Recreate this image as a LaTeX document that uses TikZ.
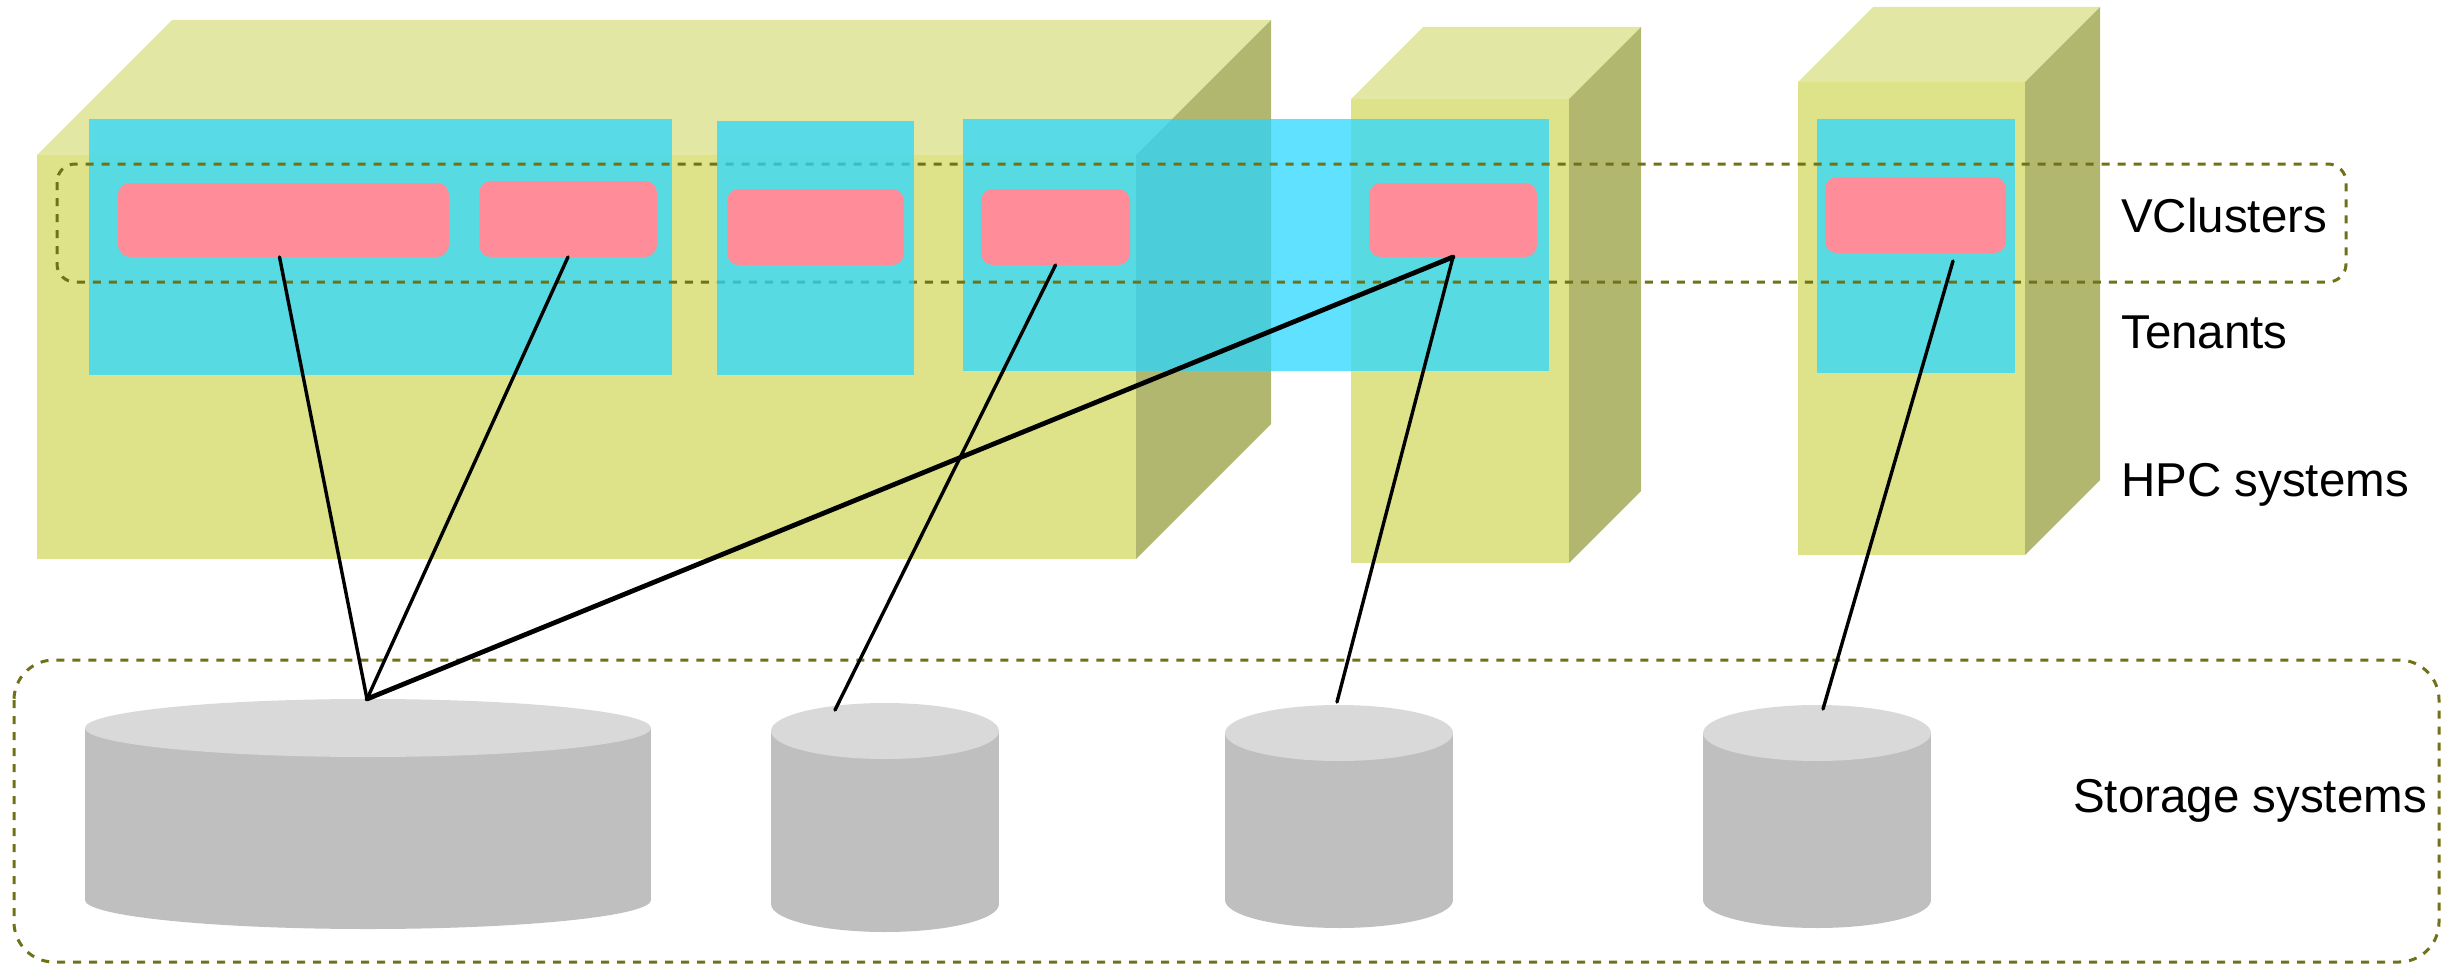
\documentclass[tikz,border=0pt]{standalone}
\usepackage{fontspec}
\setmainfont{Liberation Sans}

\definecolor{boxtop}{RGB}{226,232,163}
\definecolor{boxfront}{RGB}{222,227,138}
\definecolor{boxside}{RGB}{177,183,111}
\definecolor{tenantc}{RGB}{42,215,255}
\definecolor{vclc}{RGB}{255,140,153}
\definecolor{dashc}{RGB}{112,114,24}
\definecolor{cyltop}{RGB}{217,217,217}
\definecolor{cylbody}{RGB}{191,191,191}

% HPC system drawn as a box: front corners (x1,y1)-(x2,y2), depth d
\newcommand\hpcbox[5]{%
  \fill[boxtop] (#1,#2) -- (#1+#5,#2-#5) -- (#3+#5,#2-#5) -- (#3,#2) -- cycle;
  \fill[boxfront] (#1,#2) rectangle (#3,#4);
  \fill[boxside] (#3,#2) -- (#3+#5,#2-#5) -- (#3+#5,#4-#5) -- (#3,#4) -- cycle;
}
% storage cylinder: centre x, top y, bottom y, x radius, y radius
\newcommand\storagecyl[5]{%
  \fill[cylbody] (#1-#4,#2) rectangle (#1+#4,#3);
  \fill[cylbody] (#1,#3) ellipse [x radius=#4, y radius=#5];
  \fill[cyltop] (#1,#2) ellipse [x radius=#4, y radius=#5];
}

\begin{document}
\begin{tikzpicture}[x=1pt,y=-1pt,
  tenant/.style={fill=tenantc, fill opacity=0.75, inner sep=0pt, outer sep=0pt},
  vcluster/.style={fill=vclc, rounded corners=12pt, inner sep=0pt, outer sep=0pt},
  groupframe/.style={draw=dashc, line width=3pt, dash pattern=on 8pt off 8pt},
  wire/.style={line width=3.4pt, line cap=round},
  legendtext/.style={anchor=base west, inner sep=0pt, font=\fontsize{47.5pt}{57pt}\selectfont},
]
\useasboundingbox (0,0) rectangle (2442,966);

% HPC systems
\hpcbox{37}{155}{1136}{559}{135}
\hpcbox{1351}{99}{1569}{563}{72}
\hpcbox{1798}{82}{2025}{555}{75}

% tenants below the VCluster frame
\node[tenant, minimum width=583pt, minimum height=256pt] (t1) at (380.5,247) {};
\node[tenant, minimum width=586pt, minimum height=252pt] (t3) at (1256,245) {};
\node[tenant, minimum width=198pt, minimum height=254pt] (t4) at (1916,246) {};

% VClusters frame
\draw[groupframe, rounded corners=18pt] (57,164) rectangle (2346,282);

% tenant drawn over the frame
\node[tenant, minimum width=197pt, minimum height=254pt] (t2) at (815.5,248) {};

% VClusters
\node[vcluster, minimum width=331pt, minimum height=74pt] (p1) at (283.5,220) {};
\node[vcluster, minimum width=178pt, minimum height=76pt] (p2) at (568,219) {};
\node[vcluster, minimum width=177pt, minimum height=76pt] (p3) at (815.5,227) {};
\node[vcluster, minimum width=149pt, minimum height=76pt] (p4) at (1055.5,227) {};
\node[vcluster, minimum width=168pt, minimum height=74pt] (p5) at (1453,220) {};
\node[vcluster, minimum width=181pt, minimum height=76pt] (p6) at (1915.5,215) {};

% storage systems
\draw[groupframe, rounded corners=40pt] (14,660) rectangle (2439,962);
\storagecyl{368}{728}{900}{283}{29}
\storagecyl{885}{731}{904}{114}{28}
\storagecyl{1339}{733}{900}{114}{28}
\storagecyl{1817}{733}{900}{114}{28}

\coordinate (s1) at (367,699);
\coordinate (s2) at (835,710);
\coordinate (s3) at (1337,702);
\coordinate (s4) at (1823,709);
\coordinate (p6tail) at (1953,261);

% connections between VClusters and storage
\draw[wire] ([xshift=-4pt]p1.south) -- (s1);
\draw[wire] (p2.south) -- (s1);
\draw[wire, line width=4.8pt] (p5.south) -- (s1);
\draw[wire] (p4.south) -- (s2);
\draw[wire] (p5.south) -- (s3);
\draw[wire] (p6tail) -- (s4);

% legend
\node[legendtext] (lvc) at (2121,232) {VClusters};
\node[legendtext] (lten) at (2121,348) {Tenants};
\node[legendtext] (lhpc) at (2121,496) {HPC systems};
\node[legendtext] (lsto) at (2073,812) {Storage systems};
\end{tikzpicture}
\end{document}
